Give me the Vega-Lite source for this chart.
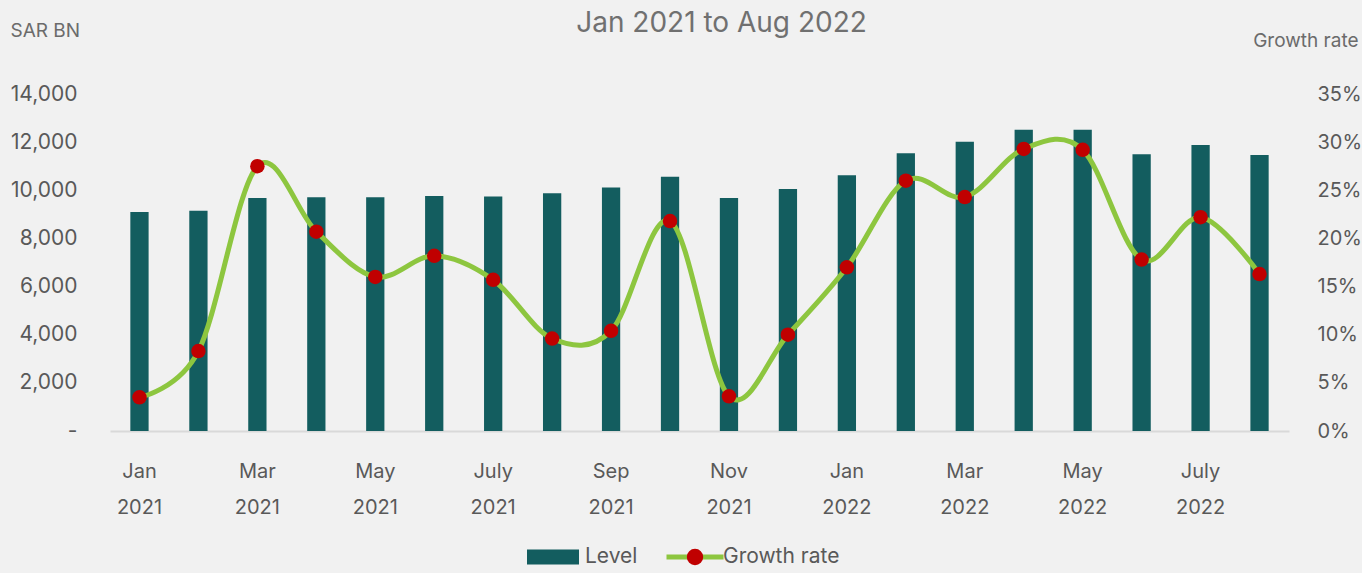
{
  "$schema": "https://vega.github.io/schema/vega-lite/v6.json",
  "width": 1179,
  "height": 337,
  "autosize": {"type": "none"},
  "padding": {"left": 110, "top": 94, "right": 73, "bottom": 142},
  "background": "#f1f1f1",
  "config": {
    "view": {"stroke": null},
    "font": "Inter",
    "axis": {"grid": false, "ticks": false, "labelColor": "#595959", "labelFontSize": 21, "titleColor": "#6b6b6b", "titleFontWeight": "normal", "titleFontSize": 19},
    "legend": {"labelColor": "#595959", "labelFontSize": 21, "padding": 0}
  },
  "title": {"text": "Jan 2021 to Aug 2022", "fontSize": 28, "fontWeight": "normal", "color": "#707070", "anchor": "middle", "dx": 22, "dy": 17, "offset": 0},
  "data": {"values": [
    {"month": "Jan 2021", "level": 9100, "growth": 0.035},
    {"month": "Feb 2021", "level": 9150, "growth": 0.083},
    {"month": "Mar 2021", "level": 9680, "growth": 0.275},
    {"month": "Apr 2021", "level": 9710, "growth": 0.207},
    {"month": "May 2021", "level": 9710, "growth": 0.160},
    {"month": "Jun 2021", "level": 9760, "growth": 0.182},
    {"month": "July 2021", "level": 9740, "growth": 0.157},
    {"month": "Aug 2021", "level": 9880, "growth": 0.096},
    {"month": "Sep 2021", "level": 10120, "growth": 0.104},
    {"month": "Oct 2021", "level": 10560, "growth": 0.218},
    {"month": "Nov 2021", "level": 9680, "growth": 0.036},
    {"month": "Dec 2021", "level": 10050, "growth": 0.100},
    {"month": "Jan 2022", "level": 10620, "growth": 0.170},
    {"month": "Feb 2022", "level": 11540, "growth": 0.260},
    {"month": "Mar 2022", "level": 12020, "growth": 0.243},
    {"month": "Apr 2022", "level": 12520, "growth": 0.293},
    {"month": "May 2022", "level": 12520, "growth": 0.292},
    {"month": "Jun 2022", "level": 11500, "growth": 0.178},
    {"month": "July 2022", "level": 11880, "growth": 0.222},
    {"month": "Aug 2022", "level": 11470, "growth": 0.163}
  ]},
  "layer": [
    {
      "mark": {"type": "bar"},
      "encoding": {
        "x": {"field": "month", "type": "nominal", "sort": null,
          "scale": {"paddingInner": 0.69, "paddingOuter": 0.345},
          "axis": {"title": null, "labelAngle": 0, "labelFontSize": 20, "labelLineHeight": 36, "labelPadding": 30, "labelOverlap": false, "domainColor": "#d9d9d9", "domainWidth": 2,
            "labelExpr": "indexof(['Feb','Apr','Jun','Aug','Oct','Dec'], substring(datum.value,0,3)) >= 0 ? '' : split(datum.value, ' ')"}},
        "y": {"field": "level", "type": "quantitative", "scale": {"domain": [0, 14000]},
          "axis": {"title": "SAR BN", "titleAngle": 0, "titleX": -100, "titleY": -64, "titleAlign": "left", "titleBaseline": "middle", "domain": false, "labelPadding": 33,
            "values": [0, 2000, 4000, 6000, 8000, 10000, 12000, 14000],
            "labelExpr": "datum.value == 0 ? '-\u00a0\u00a0\u00a0\u00a0\u00a0' : format(datum.value, ',')"}},
        "fill": {"datum": "Level", "scale": {"range": ["#135d5f"]},
          "legend": {"orient": "none", "legendX": 417, "legendY": 437, "title": null, "symbolType": "M-1,-0.288H1V0.288H-1Z", "symbolSize": 2704, "symbolStrokeWidth": 0, "labelOffset": 6}}
      }
    },
    {
      "layer": [
        {
          "mark": {"type": "line", "interpolate": "cardinal", "strokeWidth": 5},
          "encoding": {
            "x": {"field": "month", "type": "nominal", "sort": null},
            "y": {"field": "growth", "type": "quantitative", "scale": {"domain": [0, 0.35]},
              "axis": {"orient": "right", "title": "Growth rate", "titleAngle": 0, "titleX": 69, "titleY": -54, "titleAlign": "right", "titleBaseline": "middle", "domain": false, "labelPadding": 28, "labelFontSize": 20, "format": ".0%",
                "values": [0, 0.05, 0.1, 0.15, 0.2, 0.25, 0.3, 0.35]}},
            "color": {"datum": "Growth rate", "scale": {"range": ["#8dc63f"]},
              "legend": {"orient": "none", "legendX": 554, "legendY": 432, "title": null, "symbolType": "stroke", "symbolSize": 3249, "symbolStrokeWidth": 5, "labelOffset": -3}}
          }
        },
        {
          "mark": {"type": "circle", "size": 210, "opacity": 1, "fill": "#c00000", "strokeWidth": 0},
          "encoding": {
            "x": {"field": "month", "type": "nominal", "sort": null},
            "y": {"field": "growth", "type": "quantitative", "scale": {"domain": [0, 0.35]},
              "axis": {"orient": "right", "title": "Growth rate", "titleAngle": 0, "titleX": 69, "titleY": -54, "titleAlign": "right", "titleBaseline": "middle", "domain": false, "labelPadding": 28, "labelFontSize": 20, "format": ".0%",
                "values": [0, 0.05, 0.1, 0.15, 0.2, 0.25, 0.3, 0.35]}},
            "stroke": {"datum": "marker", "scale": {"range": ["#c00000"]},
              "legend": {"orient": "none", "legendX": 554, "legendY": 432, "title": null, "symbolType": "M0.2,0A0.2,0.2,0,1,1,-0.2,0A0.2,0.2,0,1,1,0.2,0Z", "symbolSize": 3249, "symbolStrokeWidth": 5, "labelExpr": "''",
                "encode": {"symbols": {"update": {"fill": {"value": "#c00000"}, "stroke": {"value": "transparent"}, "strokeWidth": {"value": 0}}}}}}
          }
        }
      ]
    }
  ],
  "resolve": {"scale": {"y": "independent"}}
}
